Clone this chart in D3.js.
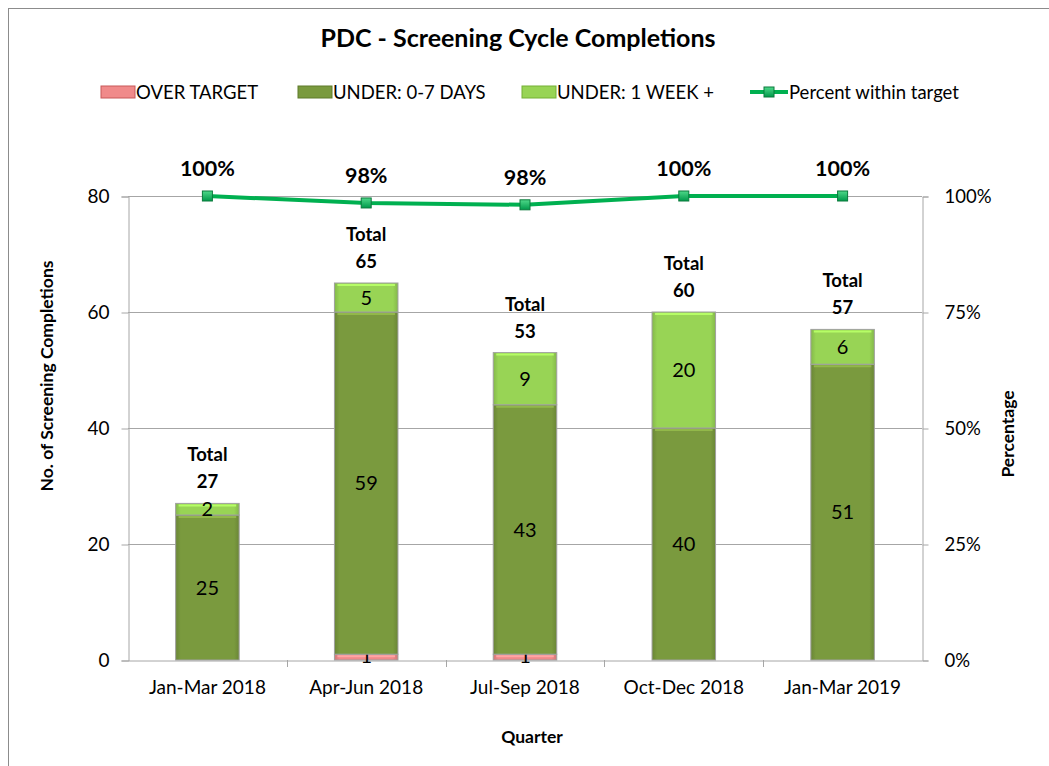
<!DOCTYPE html>
<html>
<head>
<meta charset="utf-8">
<script src="https://cdn.jsdelivr.net/npm/d3@7"></script>
<style>
  body { margin: 0; background: #fff; }
  svg text { font-family: Lato, "Open Sans", sans-serif; fill: #000; }
</style>
</head>
<body>
<svg id="chart"></svg>
<script>
// chart data
const quarters = ["Jan-Mar 2018", "Apr-Jun 2018", "Jul-Sep 2018", "Oct-Dec 2018", "Jan-Mar 2019"];
const overTarget = [0, 1, 1, 0, 0];
const under07 = [25, 59, 43, 40, 51];
const underWeek = [2, 5, 9, 20, 6];
const percentWithin = [100, 98.5, 98.1, 100, 100];
const percentLabels = ["100%", "98%", "98%", "100%", "100%"];
const leftTicks = [0, 20, 40, 60, 80];
const rightTicks = [0, 25, 50, 75, 100];
const seriesNames = ["OVER TARGET", "UNDER: 0-7 DAYS", "UNDER: 1 WEEK +"];

const width = 1049, height = 766;
const margin = { left: 128, right: 128, top: 196, bottom: 106 };
const colors = ["#F08A8A", "#7A9A3E", "#98D455"];
const edge = ["#C85858", "#5E7A2A", "#74B035"];

const svg = d3.select("#chart").attr("width", width).attr("height", height);

// gradients to get the bevelled look of the bars
const defs = svg.append("defs");
colors.forEach((c, i) => {
    const g = defs.append("linearGradient").attr("id", "g" + i)
        .attr("x1", 0).attr("x2", 1).attr("y1", 0).attr("y2", 0);
    g.append("stop").attr("offset", "0%").attr("stop-color", d3.color(c).darker(0.4));
    g.append("stop").attr("offset", "8%").attr("stop-color", c);
    g.append("stop").attr("offset", "92%").attr("stop-color", c);
    g.append("stop").attr("offset", "100%").attr("stop-color", d3.color(c).darker(0.4));
});
const mg = defs.append("linearGradient").attr("id", "mk")
    .attr("x1", 0).attr("x2", 0).attr("y1", 0).attr("y2", 1);
mg.append("stop").attr("offset", "0%").attr("stop-color", "#4fd98a");
mg.append("stop").attr("offset", "100%").attr("stop-color", "#00994a");

// outer border (only top/left inside the picture)
svg.append("rect").attr("x", 8.5).attr("y", 8.5)
    .attr("width", width + 20).attr("height", height + 20)
    .attr("fill", "none").attr("stroke", "#8c8c8c");

const x = d3.scaleBand().domain(quarters)
    .range([margin.left, width - margin.right + 1]).paddingInner(0.6).paddingOuter(0.3);
const xAxisScale = d3.scaleBand().domain(quarters)
    .range([margin.left, width - margin.right + 1]);
const y = d3.scaleLinear().domain([0, 80]).range([height - margin.bottom, margin.top]);
const yP = d3.scaleLinear().domain([0, 100]).range([height - margin.bottom, margin.top]);

// gridlines
svg.append("g").selectAll("line").data(leftTicks.slice(1)).join("line")
    .attr("x1", margin.left).attr("x2", width - margin.right + 1)
    .attr("y1", d => Math.round(y(d)) + 0.5).attr("y2", d => Math.round(y(d)) + 0.5)
    .attr("stroke", "#a6a6a6");

// left axis
const yAxis = svg.append("g").attr("transform", `translate(${margin.left + 0.5},0.5)`)
    .call(d3.axisLeft(y).tickValues(leftTicks).tickSize(7).tickPadding(12));
yAxis.select(".domain").attr("stroke", "#a6a6a6");
yAxis.selectAll(".tick line").attr("stroke", "#a6a6a6");
yAxis.selectAll("text").attr("font-size", 19).attr("font-family", "Lato");

// right axis
const yRight = svg.append("g").attr("transform", `translate(${width - margin.right + 1.5},0.5)`)
    .call(d3.axisRight(yP).tickValues(rightTicks).tickSize(6).tickPadding(16).tickFormat(d => d + "%"));
yRight.select(".domain").attr("stroke", "#a6a6a6");
yRight.selectAll(".tick line").attr("stroke", "#a6a6a6");
yRight.selectAll("text").attr("font-size", 18.5).attr("font-family", "Lato");

// bottom axis
const xAxis = svg.append("g").attr("transform", `translate(0,${height - margin.bottom + 0.5})`)
    .call(d3.axisBottom(xAxisScale).tickSize(0).tickPadding(20));
xAxis.select(".domain").attr("stroke", "#a6a6a6");
xAxis.selectAll("text").attr("font-size", 19).attr("font-family", "Lato");
svg.append("g").selectAll("line").data(quarters.slice(1)).join("line")
    .attr("x1", d => Math.round(xAxisScale(d)) + 0.5).attr("x2", d => Math.round(xAxisScale(d)) + 0.5)
    .attr("y1", height - margin.bottom).attr("y2", height - margin.bottom + 7)
    .attr("stroke", "#a6a6a6");

// stacked bars
const rows = quarters.map((q, i) => ({ q, v: [overTarget[i], under07[i], underWeek[i]] }));
rows.forEach(r => {
    let base = 0;
    r.segs = r.v.map((v, k) => { const s = { k, v, y0: base, y1: base + v, q: r.q }; base += v; return s; });
    r.total = base;
});

const bars = svg.append("g");
rows.forEach(r => {
    r.segs.filter(s => s.v > 0).forEach(s => {
        bars.append("rect")
            .attr("x", x(s.q)).attr("width", x.bandwidth())
            .attr("y", y(s.y1)).attr("height", y(s.y0) - y(s.y1))
            .attr("fill", `url(#g${s.k})`)
            .attr("stroke", "#a0a0a0").attr("stroke-width", 1);
        // top highlight line for the bevel
        bars.append("line")
            .attr("x1", x(s.q) + 3).attr("x2", x(s.q) + x.bandwidth() - 3)
            .attr("y1", y(s.y1) + 2).attr("y2", y(s.y1) + 2)
            .attr("stroke", d3.color(colors[s.k]).brighter(0.5)).attr("stroke-width", 2);
        bars.append("text")
            .attr("x", x(s.q) + x.bandwidth() / 2)
            .attr("y", s.k === 0 ? y(s.y0) - 2 : (y(s.y0) + y(s.y1)) / 2)
            .attr("dy", s.k === 0 ? "0.25em" : "0.35em")
            .attr("text-anchor", "middle").attr("font-size", 20)
            .text(s.v);
    });
});

// total labels
const totals = svg.append("g");
rows.forEach(r => {
    const cx = x(r.q) + x.bandwidth() / 2;
    totals.append("text").attr("x", cx).attr("y", y(r.total) - 42)
        .attr("text-anchor", "middle").attr("font-size", 18.5).attr("font-weight", "bold").text("Total");
    totals.append("text").attr("x", cx).attr("y", y(r.total) - 15)
        .attr("text-anchor", "middle").attr("font-size", 18.5).attr("font-weight", "bold").text(r.total);
});

// percent line
const cxOf = q => x(q) + x.bandwidth() / 2;
const line = d3.line().x((d, i) => cxOf(quarters[i])).y(d => yP(d));
svg.append("path").datum(percentWithin).attr("d", line)
    .attr("fill", "none").attr("stroke", "#00B050").attr("stroke-width", 4);
svg.append("g").selectAll("rect").data(percentWithin).join("rect")
    .attr("x", (d, i) => cxOf(quarters[i]) - 5).attr("y", d => yP(d) - 5)
    .attr("width", 10).attr("height", 10)
    .attr("fill", "url(#mk)").attr("stroke", "#0b7a3c").attr("stroke-width", 1);
svg.append("g").selectAll("text").data(percentWithin).join("text")
    .attr("x", (d, i) => cxOf(quarters[i])).attr("y", d => yP(d) - 20)
    .attr("text-anchor", "middle").attr("font-size", 21.5).attr("font-weight", "bold")
    .text((d, i) => percentLabels[i]);

// title
svg.append("text").attr("x", 518).attr("y", 47).attr("text-anchor", "middle")
    .attr("font-size", 25).attr("font-weight", "bold").text("PDC - Screening Cycle Completions");

// axis titles
svg.append("text").attr("transform", "translate(53,376) rotate(-90)")
    .attr("text-anchor", "middle").attr("font-size", 17.5).attr("font-weight", "bold")
    .text("No. of Screening Completions");
svg.append("text").attr("transform", "translate(1014,434) rotate(-90)")
    .attr("text-anchor", "middle").attr("font-size", 17.5).attr("font-weight", "bold")
    .text("Percentage");
svg.append("text").attr("x", 532).attr("y", 743).attr("text-anchor", "middle")
    .attr("font-size", 17.5).attr("font-weight", "bold").text("Quarter");

// legend
const legendX = [101, 298, 522];
const legend = svg.append("g");
seriesNames.forEach((name, i) => {
    legend.append("rect").attr("x", legendX[i]).attr("y", 86).attr("width", 34).attr("height", 12)
        .attr("fill", colors[i]).attr("stroke", edge[i]);
    legend.append("text").attr("x", legendX[i] + 35).attr("y", 99)
        .attr("font-size", 18.5).text(name);
});
legend.append("line").attr("x1", 750).attr("x2", 788).attr("y1", 92).attr("y2", 92)
    .attr("stroke", "#00B050").attr("stroke-width", 4);
legend.append("rect").attr("x", 764).attr("y", 87).attr("width", 10).attr("height", 10)
    .attr("fill", "url(#mk)").attr("stroke", "#0b7a3c");
legend.append("text").attr("x", 789).attr("y", 99).attr("font-size", 18.5).text("Percent within target");
</script>
</body>
</html>
